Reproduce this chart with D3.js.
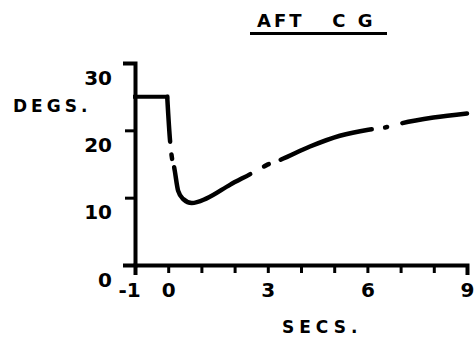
<!DOCTYPE html>
<html>
<head>
<meta charset="utf-8">
<script src="https://cdn.jsdelivr.net/npm/d3@7"></script>
<style>
  html, body { margin: 0; padding: 0; background: #fff; }
  svg { display: block; }
  text { font-family: "DejaVu Sans", sans-serif; font-weight: bold; fill: #000; }
</style>
</head>
<body>
<div id="chart"></div>
<script>
// step input before t = 0
const stepSecs = [-1, -0.03];
const stepDegs = [25, 25];

// response after t = 0
const respSecs = [-0.03, 0.06, 0.11, 0.18, 0.30, 0.45, 0.71, 1.16, 1.86, 2.51, 2.95, 3.37, 4.27, 5.17, 6.03, 6.56, 7.03, 7.99, 9.0];
const respDegs = [25, 18.2, 16.0, 14.5, 11.0, 9.8, 9.2, 9.9, 11.9, 13.6, 14.8, 15.6, 17.6, 19.2, 20.1, 20.45, 21.05, 21.9, 22.5];

// where the drafted line is broken (chain line): [from, to] as [secs, degs]
const lineBreaks = [
  [[0.065, 18.0], [0.10, 16.8]],
  [[0.115, 15.45], [0.16, 14.85]],
  [[2.53, 13.65], [2.82, 14.5]],
  [[3.09, 15.1], [3.32, 15.5]],
  [[6.20, 20.1], [6.46, 20.4]],
  [[6.66, 20.5], [6.98, 21.0]]
];

const xTicks = [-1, 0, 1, 2, 3, 4, 5, 6, 7, 8, 9];
const xLabelTicks = [-1, 0, 3, 6, 9];
const yTicks = [0, 10, 20, 30];

const width = 476, height = 338;

const svg = d3.select("#chart")
  .append("svg")
  .attr("width", width)
  .attr("height", height);

const x = d3.scaleLinear().domain([-1, 9]).range([135, 467]);
const y = d3.scaleLinear().domain([0, 30]).range([265, 63]);

// x axis
const xAxis = svg.append("g")
  .attr("class", "x-axis")
  .attr("transform", `translate(0, ${y(0)})`)
  .call(d3.axisBottom(x)
    .tickValues(xTicks)
    .tickSizeOuter(0)
    .tickSize(8)
    .tickPadding(10)
    .tickFormat(d => xLabelTicks.includes(d) ? String(d) : ""));

// y axis
const yAxis = svg.append("g")
  .attr("class", "y-axis")
  .attr("transform", `translate(${x(-1)}, 0)`)
  .call(d3.axisLeft(y)
    .tickValues(yTicks)
    .tickSizeOuter(0)
    .tickSize(10)
    .tickPadding(13)
    .tickFormat(d3.format("d")));

svg.selectAll(".x-axis, .y-axis")
  .attr("font-family", null)
  .attr("font-size", null);

svg.selectAll(".domain")
  .attr("stroke", "#000")
  .attr("stroke-width", 4)
  .attr("stroke-linecap", "square");
svg.selectAll(".tick line")
  .attr("stroke", "#000")
  .attr("stroke-width", 3);

xAxis.selectAll("text")
  .style("font-size", "20px")
  .attr("dx", d => d === -1 ? -6 : 0);
yAxis.selectAll("text")
  .style("font-size", "20px")
  .attr("dy", "1.05em");

// lines
const stepLine = d3.line()
  .x((d, i) => x(stepSecs[i]))
  .y((d, i) => y(stepDegs[i]));

svg.append("path")
  .attr("d", stepLine(stepSecs))
  .attr("fill", "none")
  .attr("stroke", "#000")
  .attr("stroke-width", 4)
  .attr("stroke-linecap", "square");

const respLine = d3.line()
  .x((d, i) => x(respSecs[i]))
  .y((d, i) => y(respDegs[i]))
  .curve(d3.curveMonotoneX);

const sw = 4.5;
const resp = svg.append("path")
  .attr("d", respLine(respSecs))
  .attr("fill", "none")
  .attr("stroke", "#000")
  .attr("stroke-width", sw)
  .attr("stroke-linecap", "round")
  .attr("stroke-linejoin", "round");

// turn the break list into a dash pattern along the curve
const node = resp.node();
const L = node.getTotalLength();
const lenNear = ([t, d]) => {
  const px = x(t), py = y(d);
  let best = 0, bd = Infinity;
  for (let l = 0; l <= L; l += 0.25) {
    const p = node.getPointAtLength(l);
    const dist = (p.x - px) ** 2 + (p.y - py) ** 2;
    if (dist < bd) { bd = dist; best = l; }
  }
  return best;
};
const r = sw / 2;
// visible pieces [start, end] in path length
const pieces = [];
let vs = -r;
lineBreaks.forEach(([a, b]) => {
  pieces.push([vs, lenNear(a)]);
  vs = lenNear(b);
});
pieces.push([vs, L + r]);
const dash = [];
let cursor = 0;
pieces.forEach(([s0, e0], i) => {
  const s = s0 + r, e = Math.max(e0 - r, s + 0.5);
  if (i > 0) dash.push(s - cursor);
  dash.push(e - s);
  cursor = e;
});
dash.push(1000);
resp.attr("stroke-dasharray", dash.map(v => v.toFixed(2)).join(" "));

// labels
svg.append("text")
  .attr("x", 257)
  .attr("y", 27)
  .style("font-size", "18px")
  .style("letter-spacing", "3px")
  .text("AFT\u00A0\u00A0\u00A0C\u00A0G");

svg.append("line")
  .attr("x1", 250).attr("x2", 387)
  .attr("y1", 33.5).attr("y2", 33.5)
  .attr("stroke", "#000")
  .attr("stroke-width", 3);

svg.append("text")
  .attr("x", 13)
  .attr("y", 112)
  .style("font-size", "17px")
  .style("letter-spacing", "4px")
  .text("DEGS.");

svg.append("text")
  .attr("x", 282)
  .attr("y", 333)
  .style("font-size", "17px")
  .style("letter-spacing", "5px")
  .text("SECS.");
</script>
</body>
</html>
